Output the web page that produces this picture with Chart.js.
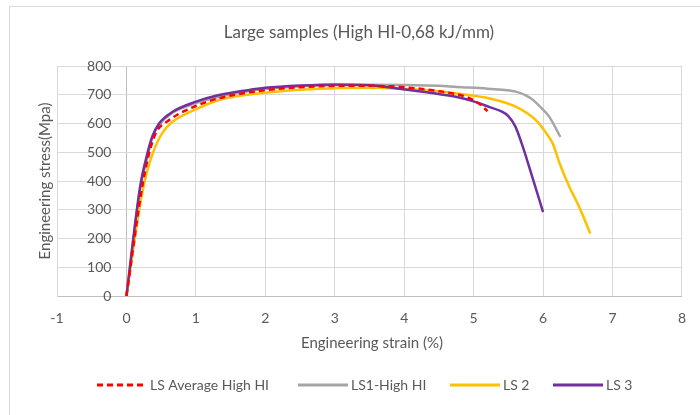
<!DOCTYPE html>
<html>
<head>
<meta charset="utf-8">
<script src="https://cdn.jsdelivr.net/npm/chart.js@4/dist/chart.umd.min.js"></script>
<style>
  html, body { margin: 0; padding: 0; background: #fff; }
  #wrap { width: 700px; height: 415px; position: relative; }
</style>
</head>
<body>
<div id="wrap"><canvas id="grafico" width="700" height="415"></canvas></div>
<script>
// Dados (deformação em %, tensão em MPa)
const seriesLabels = ['LS Average High HI', 'LS1-High HI', 'LS 2', 'LS 3'];

const avgStrain = [0, 0.22, 0.32, 0.42, 0.61, 0.99, 1.32, 1.75, 2, 2.5, 3, 3.5, 4, 4.5, 4.9, 5.09, 5.2];
const avgStress = [0, 370, 490, 565, 611, 660, 687, 708, 716, 726, 731, 731, 726, 712, 692, 667, 643];

const ls1Strain = [0, 0.2, 0.3, 0.38, 0.47, 0.66, 0.99, 1.32, 1.75, 2, 2.5, 3, 3.5, 4, 4.5, 4.76, 5.2, 5.62, 5.75, 5.85, 5.95, 6.09, 6.25];
const ls1Stress = [0, 375, 480, 558, 595, 637, 670, 692, 712, 720, 729, 733, 735, 734, 731, 727, 721, 710, 698, 683, 660, 623, 553];

const ls2Strain = [0, 0.22, 0.3, 0.4, 0.51, 0.66, 0.99, 1.32, 1.75, 2, 2.5, 3, 3.5, 4, 4.5, 4.76, 5.23, 5.62, 5.9, 6.05, 6.14, 6.24, 6.38, 6.52, 6.68];
const ls2Stress = [0, 350, 435, 510, 565, 605, 648, 681, 700, 707, 717, 723, 724, 720, 712, 704, 687, 657, 611, 565, 530, 460, 379, 310, 217];

const ls3Strain = [0, 0.2, 0.28, 0.37, 0.47, 0.66, 0.99, 1.32, 1.75, 2, 2.5, 3, 3.5, 3.9, 4.4, 4.76, 5.0, 5.23, 5.4, 5.5, 5.6, 5.71, 5.86, 6.0];
const ls3Stress = [0, 385, 475, 553, 600, 640, 675, 698, 716, 724, 732, 736, 733, 722, 706, 692, 677, 657, 642, 626, 590, 518, 402, 292];

const xTicks = [-1, 0, 1, 2, 3, 4, 5, 6, 7, 8];
const yTicks = [0, 100, 200, 300, 400, 500, 600, 700, 800];

const corTexto = '#595959';
const fonte = 'Lato, "Open Sans", sans-serif';

function pontos(xs, ys) {
    return xs.map((x, i) => ({ x: x, y: ys[i] }));
}

// Plugin para título, rótulos do eixo Y junto a x=0, títulos dos eixos e legenda
const decoracao = {
    id: 'decoracao',
    afterDraw(chart) {
        const ctx = chart.ctx;
        const area = chart.chartArea;
        const sx = chart.scales.x;
        const sy = chart.scales.y;
        ctx.save();

        // moldura do gráfico
        ctx.strokeStyle = '#d9d9d9';
        ctx.lineWidth = 1;
        ctx.beginPath();
        ctx.moveTo(9.5, 415);
        ctx.lineTo(9.5, 6.5);
        ctx.lineTo(700, 6.5);
        ctx.stroke();

        ctx.fillStyle = corTexto;

        // título
        ctx.font = '17px ' + fonte;
        ctx.textAlign = 'center';
        ctx.textBaseline = 'middle';
        ctx.fillText('Large samples (High HI-0,68 kJ/mm)', 359, 33);

        // rótulos do eixo Y ao lado do eixo em x = 0
        ctx.font = '14px ' + fonte;
        ctx.textAlign = 'right';
        const x0 = sx.getPixelForValue(0);
        yTicks.forEach(v => {
            ctx.fillText(String(v), x0 - 15, sy.getPixelForValue(v));
        });

        // título do eixo X
        ctx.font = '15px ' + fonte;
        ctx.textAlign = 'center';
        ctx.fillText('Engineering strain (%)', 372, 343);

        // título do eixo Y
        ctx.save();
        ctx.translate(45, (area.top + area.bottom) / 2);
        ctx.rotate(-Math.PI / 2);
        ctx.fillText('Engineering stress(Mpa)', 0, 0);
        ctx.restore();

        // legenda, na ordem da figura original
        const legendaX = [97, 298, 450, 553];
        const yLeg = 385;
        ctx.font = '14px ' + fonte;
        ctx.textAlign = 'left';
        seriesLabels.forEach((nome, i) => {
            const ds = chart.data.datasets.find(d => d.label === nome);
            const x = legendaX[i];
            ctx.strokeStyle = ds.borderColor;
            ctx.lineWidth = 3;
            ctx.setLineDash(ds.borderDash || []);
            ctx.beginPath();
            ctx.moveTo(x, yLeg);
            ctx.lineTo(x + 50, yLeg);
            ctx.stroke();
            ctx.setLineDash([]);
            ctx.fillStyle = corTexto;
            ctx.fillText(nome, x + 53, yLeg);
        });

        ctx.restore();
    }
};

const linhaBase = {
    showLine: true,
    pointRadius: 0,
    borderWidth: 2.5,
    fill: false,
    cubicInterpolationMode: 'monotone'
};

new Chart(document.getElementById('grafico').getContext('2d'), {
    type: 'scatter',
    data: {
        datasets: [
            { ...linhaBase, label: seriesLabels[0], data: pontos(avgStrain, avgStress), borderColor: '#FF0000', borderDash: [6, 4], order: 0 },
            { ...linhaBase, label: seriesLabels[1], data: pontos(ls1Strain, ls1Stress), borderColor: '#A5A5A5', order: 3 },
            { ...linhaBase, label: seriesLabels[2], data: pontos(ls2Strain, ls2Stress), borderColor: '#FFC000', order: 2 },
            { ...linhaBase, label: seriesLabels[3], data: pontos(ls3Strain, ls3Stress), borderColor: '#7030A0', order: 1 }
        ]
    },
    options: {
        responsive: false,
        animation: false,
        layout: { padding: { left: 57, top: 66, right: 16, bottom: 0 } },
        scales: {
            x: {
                type: 'linear',
                min: -1,
                max: 8,
                afterBuildTicks: s => { s.ticks = xTicks.map(v => ({ value: v })); },
                afterFit: s => { s.height = 119; },
                ticks: { color: corTexto, font: { family: fonte, size: 14 }, padding: 14 },
                grid: {
                    drawTicks: false,
                    color: c => (c.tick && c.tick.value === 0 ? '#bfbfbf' : '#d9d9d9'),
                    lineWidth: 1
                },
                border: { color: '#bfbfbf' }
            },
            y: {
                type: 'linear',
                min: 0,
                max: 800,
                afterBuildTicks: s => { s.ticks = yTicks.map(v => ({ value: v })); },
                afterFit: s => { s.width = 0; },
                ticks: { display: false },
                grid: { drawTicks: false, color: '#d9d9d9', lineWidth: 1 },
                border: { color: '#d9d9d9' }
            }
        },
        plugins: {
            legend: { display: false },
            title: { display: false },
            tooltip: { enabled: false }
        }
    },
    plugins: [decoracao]
});
</script>
</body>
</html>
